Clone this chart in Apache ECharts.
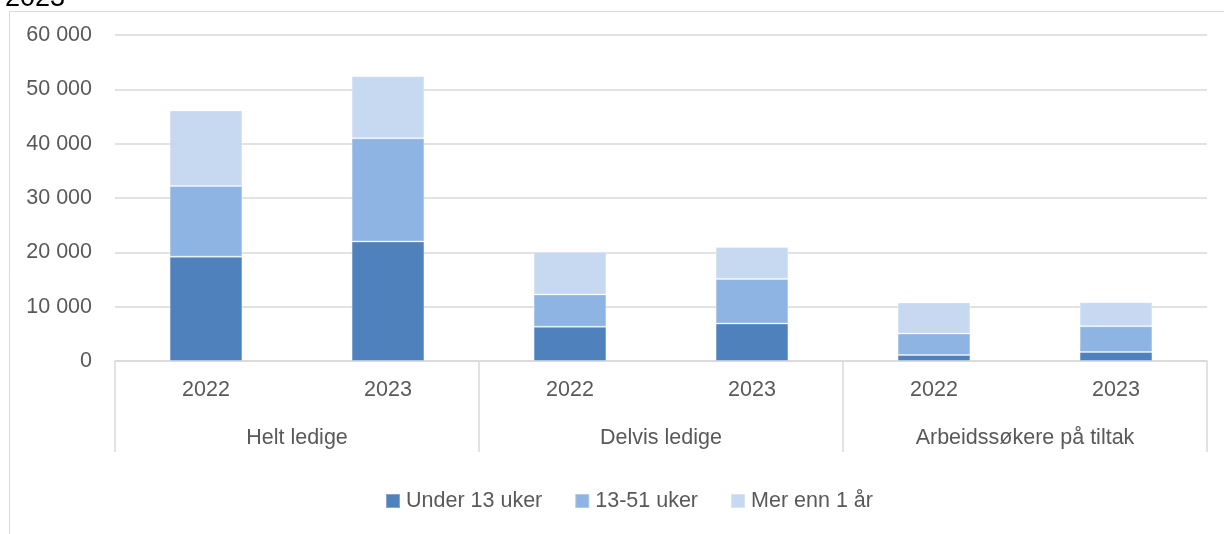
<!DOCTYPE html>
<html>
<head>
<meta charset="utf-8">
<script src="https://cdn.jsdelivr.net/npm/echarts@6/dist/echarts.min.js"></script>
<style>
  html, body { margin: 0; padding: 0; background: #fff; }
  #main { width: 1224px; height: 534px; }
</style>
</head>
<body>
<div id="main"></div>
<script>
const years = ['2022', '2023', '2022', '2023', '2022', '2023']
const groups = ['Helt ledige', 'Delvis ledige', 'Arbeidssøkere på tiltak']
const under13 = [19200, 22000, 6300, 6900, 1100, 1650]
const uker13to51 = [13000, 19000, 5950, 8200, 3950, 4750]
const merEnn1 = [13900, 11400, 7850, 5900, 5700, 4400]
const yTicks = [0, 10000, 20000, 30000, 40000, 50000, 60000]

const chartDom = document.getElementById('main')
const myChart = echarts.init(chartDom)

const font = 'Liberation Sans'
const grey = '#595959'
const line = '#d9d9d9'

function fmt (v) {
    return String(v).replace(/\B(?=(\d{3})+(?!\d))/g, ' ')
}

function bar (name, data, color) {
    return {
        name,
        type: 'bar',
        stack: 'total',
        data,
        barWidth: '40%',
        itemStyle: {
            color,
            borderColor: 'rgba(255,255,255,0.3)',
            borderWidth: 1
        }
    }
}

const option = {
    animation: false,
    title: {
        text: '2023',
        left: 0,
        top: -20,
        textStyle: { fontFamily: font, fontSize: 27, fontWeight: 'normal', color: '#000' }
    },
    graphic: [{
        type: 'rect',
        shape: { x: 9.5, y: 11.5, width: 1230, height: 540 },
        style: { fill: 'none', stroke: '#d9d9d9', lineWidth: 1 },
        silent: true
    }],
    legend: {
        bottom: 17,
        left: 380,
        itemWidth: 14,
        itemHeight: 14,
        itemGap: 32,
        icon: 'rect',
        textStyle: { fontFamily: font, fontSize: 21.5, color: grey, padding: [0, 0, 0, 1] }
    },
    grid: { left: 115, right: 17, top: 35, bottom: 173 },
    xAxis: [
        {
            type: 'category',
            data: years,
            axisLine: { lineStyle: { color: line, width: 1.5 } },
            axisTick: { show: false },
            axisLabel: { fontFamily: font, fontSize: 21.5, color: grey, margin: 18 }
        },
        {
            type: 'category',
            position: 'bottom',
            data: groups,
            axisLine: { show: false },
            axisTick: { show: true, length: 91, interval: 0, lineStyle: { color: line, width: 1.5 } },
            axisLabel: { fontFamily: font, fontSize: 21.5, color: grey, margin: 66, interval: 0 },
            splitLine: { show: false }
        }
    ],
    yAxis: {
        type: 'value',
        min: yTicks[0],
        max: yTicks[yTicks.length - 1],
        interval: 10000,
        axisLine: { show: false },
        axisTick: { show: false },
        splitLine: { lineStyle: { color: line, width: 1.5 } },
        axisLabel: {
            fontFamily: font, fontSize: 21.5, color: grey, margin: 23,
            formatter: fmt
        }
    },
    series: [
        bar('Under 13 uker', under13, '#4f81bd'),
        bar('13-51 uker', uker13to51, '#8eb4e3'),
        bar('Mer enn 1 år', merEnn1, '#c6d9f1')
    ]
}

myChart.setOption(option)
</script>
</body>
</html>
